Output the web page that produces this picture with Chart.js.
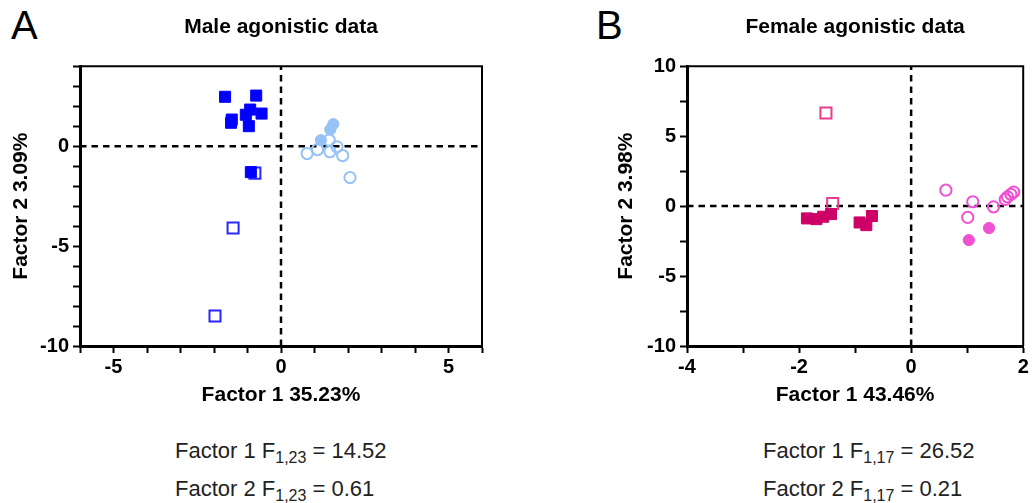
<!DOCTYPE html>
<html>
<head>
<meta charset="utf-8">
<script src="https://cdn.jsdelivr.net/npm/chart.js@4"></script>
<style>
    body { margin: 0; background: #fff; font-family: "Liberation Sans", Arial, sans-serif; }
    #page { position: relative; width: 1033px; height: 503px; overflow: hidden; }
    .panel { position: absolute; }
    .letter { position: absolute; font-size: 40px; line-height: 40px; color: #000; }
    .stats { position: absolute; font-size: 22px; line-height: 38px; color: #222; white-space: nowrap; }
    .stats sub { font-size: 16px; vertical-align: -5px; line-height: 0; }
</style>
</head>
<body>
<div id="page">
    <div class="letter" style="left:11px;top:5px">A</div>
    <div class="letter" style="left:596px;top:5px">B</div>

    <div class="panel" style="left:0;top:0;width:500px;height:410px"><canvas id="maleChart"></canvas></div>
    <div class="panel" style="left:600px;top:0;width:433px;height:410px"><canvas id="femaleChart"></canvas></div>

    <div class="stats" style="left:175px;top:432px">Factor 1 F<sub>1,23</sub> = 14.52<br>Factor 2 F<sub>1,23</sub> = 0.61</div>
    <div class="stats" style="left:763px;top:432px">Factor 1 F<sub>1,17</sub> = 26.52<br>Factor 2 F<sub>1,17</sub> = 0.21</div>
</div>

<script>
// male scores (Factor 1, Factor 2)
const maleFilledSqX = [-1.67, -0.74, -1.47, -1.49, -0.92, -1.05, -0.58, -0.96, -0.90];
const maleFilledSqY = [2.47, 2.53, 1.33, 1.17, 1.83, 1.57, 1.63, 1.00, -1.30];
const maleOpenSqX = [-0.78, -1.43, -1.97];
const maleOpenSqY = [-1.35, -4.10, -8.50];
const maleFilledCircX = [1.56, 1.47, 1.19];
const maleFilledCircY = [1.10, 0.83, 0.30];
const maleOpenCircX = [1.44, 0.78, 1.09, 1.46, 1.67, 1.84, 2.06];
const maleOpenCircY = [0.30, -0.37, -0.17, -0.28, -0.03, -0.47, -1.57];

// female scores (Factor 1, Factor 2)
const femaleFilledSqX = [-1.86, -1.69, -1.57, -1.43, -0.92, -0.80, -0.70];
const femaleFilledSqY = [-0.88, -0.93, -0.76, -0.57, -1.17, -1.36, -0.71];
const femaleOpenSqX = [-1.52, -1.40];
const femaleOpenSqY = [6.66, 0.19];
const femaleFilledCircX = [1.03, 1.39];
const femaleFilledCircY = [-2.43, -1.57];
const femaleOpenCircX = [0.62, 1.10, 1.01, 1.47, 1.68, 1.72, 1.78, 1.83];
const femaleOpenCircY = [1.14, 0.31, -0.81, -0.05, 0.48, 0.66, 0.84, 1.00];

// axis limits
const maleXRange = [-6, 6];
const maleYRange = [-10, 4];
const femaleXRange = [-4, 2];
const femaleYRange = [-10, 10];

Chart.defaults.font.family = '"Liberation Sans", Arial, sans-serif';
Chart.defaults.color = '#000';

function pts(xs, ys) {
    return xs.map((x, i) => ({ x: x, y: ys[i] }));
}

function markers(data, style, color, filled) {
    const sq = style === 'rect';
    return {
        data: data,
        pointStyle: style,
        pointRadius: sq ? 7.8 : 5.6,
        pointHoverRadius: sq ? 7.8 : 5.6,
        pointBackgroundColor: filled ? color : 'rgba(0,0,0,0)',
        pointBorderColor: color,
        pointBorderWidth: filled ? 1 : 2,
        showLine: false,
        clip: false
    };
}

function zeroLine(data) {
    return {
        type: 'line',
        data: data,
        borderColor: '#000',
        borderWidth: 2.5,
        borderDash: [6.5, 5],
        pointRadius: 0,
        fill: false
    };
}

// top and right edges of the plot frame
const frame = {
    id: 'frame',
    afterDraw(chart) {
        const a = chart.chartArea;
        const c = chart.ctx;
        c.save();
        c.strokeStyle = '#000';
        c.lineWidth = 2;
        c.beginPath();
        c.moveTo(a.left, a.top);
        c.lineTo(a.right, a.top);
        c.lineTo(a.right, a.bottom);
        c.stroke();
        c.restore();
    }
};

function scatterOptions(o) {
    return {
        responsive: true,
        maintainAspectRatio: false,
        animation: false,
        layout: { padding: { left: 0, right: o.padRight, top: 0, bottom: 2 } },
        plugins: {
            legend: { display: false },
            tooltip: { enabled: false },
            title: {
                display: true,
                text: o.title,
                fullSize: false,
                font: { size: 21, weight: 'bold' },
                padding: { top: 15, bottom: 26 }
            }
        },
        scales: {
            x: {
                type: 'linear',
                min: o.xRange[0],
                max: o.xRange[1],
                afterFit: s => { s.height = 62; },
                border: { color: '#000', width: 3 },
                grid: { drawOnChartArea: false, drawTicks: true, tickLength: 7, tickWidth: 2, tickColor: '#000' },
                ticks: {
                    stepSize: 1,
                    autoSkip: false,
                    maxRotation: 0,
                    padding: 2,
                    font: { size: 20, weight: 'bold' },
                    callback: v => (v % o.xLabelEvery === 0 ? v : '')
                },
                title: {
                    display: true,
                    text: o.xTitle,
                    font: { size: 21, weight: 'bold' },
                    padding: { top: 0, bottom: 0 }
                }
            },
            y: {
                type: 'linear',
                min: o.yRange[0],
                max: o.yRange[1],
                afterFit: s => { s.width = o.yWidth; },
                border: { color: '#000', width: 3 },
                grid: { drawOnChartArea: false, drawTicks: true, tickLength: 7, tickWidth: 2, tickColor: '#000' },
                ticks: {
                    stepSize: o.yStep,
                    autoSkip: false,
                    padding: 4,
                    font: { size: 20, weight: 'bold' },
                    callback: v => (v % 5 === 0 ? v : '')
                },
                title: {
                    display: true,
                    text: o.yTitle,
                    font: { size: 21, weight: 'bold' },
                    padding: { top: o.yTitlePad, bottom: 0 }
                }
            }
        }
    };
}

const blue = 'rgb(0,0,255)';
const blueOpen = 'rgb(40,40,255)';
const lightBlue = 'rgb(150,194,245)';

const maleCtx = document.getElementById('maleChart').getContext('2d');
const maleChart = new Chart(maleCtx, {
    type: 'scatter',
    data: {
        datasets: [
            markers(pts(maleFilledSqX, maleFilledSqY), 'rect', blue, true),
            markers(pts(maleOpenSqX, maleOpenSqY), 'rect', blueOpen, false),
            markers(pts(maleFilledCircX, maleFilledCircY), 'circle', lightBlue, true),
            markers(pts(maleOpenCircX, maleOpenCircY), 'circle', lightBlue, false),
            zeroLine([{ x: maleXRange[0], y: 0 }, { x: maleXRange[1], y: 0 }]),
            zeroLine([{ x: 0, y: maleYRange[0] }, { x: 0, y: maleYRange[1] }])
        ]
    },
    options: scatterOptions({
        title: 'Male agonistic data',
        xTitle: 'Factor 1 35.23%',
        yTitle: 'Factor 2 3.09%',
        xRange: maleXRange,
        yRange: maleYRange,
        xLabelEvery: 5,
        yStep: 1,
        yWidth: 80,
        yTitlePad: 9,
        padRight: 18
    }),
    plugins: [frame]
});

const magenta = 'rgb(204,0,102)';
const magentaOpen = 'rgb(232,60,140)';
const pink = 'rgb(240,80,210)';

const femaleCtx = document.getElementById('femaleChart').getContext('2d');
const femaleChart = new Chart(femaleCtx, {
    type: 'scatter',
    data: {
        datasets: [
            markers(pts(femaleFilledSqX, femaleFilledSqY), 'rect', magenta, true),
            markers(pts(femaleOpenSqX, femaleOpenSqY), 'rect', magentaOpen, false),
            markers(pts(femaleFilledCircX, femaleFilledCircY), 'circle', pink, true),
            markers(pts(femaleOpenCircX, femaleOpenCircY), 'circle', pink, false),
            zeroLine([{ x: femaleXRange[0], y: 0 }, { x: femaleXRange[1], y: 0 }]),
            zeroLine([{ x: 0, y: femaleYRange[0] }, { x: 0, y: femaleYRange[1] }])
        ]
    },
    options: scatterOptions({
        title: 'Female agonistic data',
        xTitle: 'Factor 1 43.46%',
        yTitle: 'Factor 2 3.98%',
        xRange: femaleXRange,
        yRange: femaleYRange,
        xLabelEvery: 2,
        yStep: 2.5,
        yWidth: 87,
        yTitlePad: 14,
        padRight: 6
    }),
    plugins: [frame]
});
</script>
</body>
</html>
